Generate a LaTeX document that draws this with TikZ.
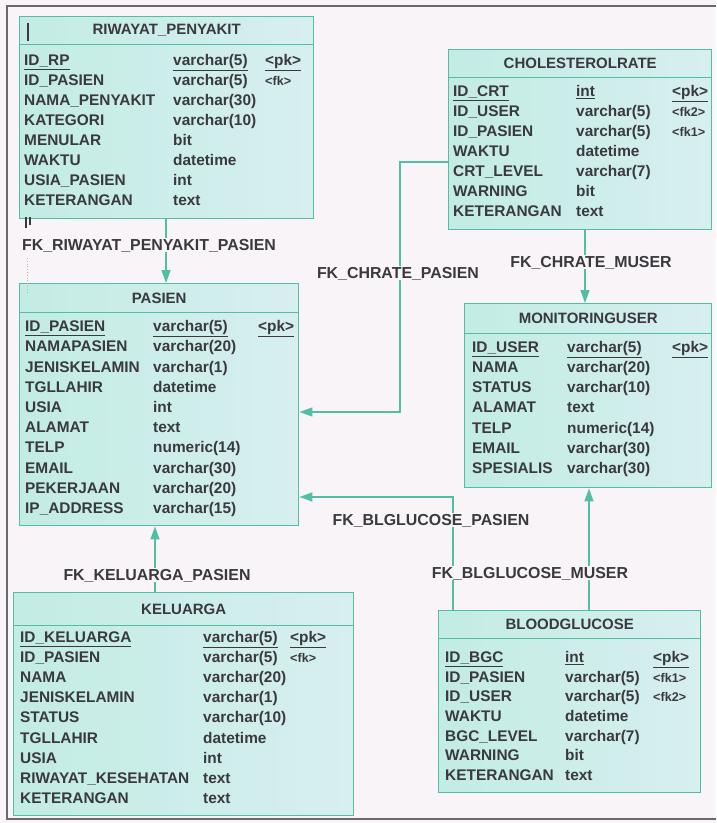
\documentclass[tikz,border=0pt]{standalone}
\usepackage{fontspec}
\setmainfont{Liberation Sans}
\usetikzlibrary{arrows.meta}

\definecolor{pagebg}{HTML}{F8F4F7}
\definecolor{tealline}{HTML}{52BFA5}
\definecolor{boxleft}{HTML}{C2ECE4}
\definecolor{boxright}{HTML}{D7EFEF}
\definecolor{ink}{HTML}{3A393F}
\definecolor{framegray}{HTML}{6B6670}

\tikzset{
  tablebox/.style={draw=tealline, line width=1.4pt, left color=boxleft, right color=boxright,
    anchor=north west, inner sep=0pt},
  headbox/.style={draw=tealline, line width=1.4pt, anchor=north west, inner sep=0pt,
    minimum height=28pt, text=ink, font=\bfseries\fontsize{15.0pt}{18pt}\selectfont},
  fld/.style={anchor=west, inner sep=0pt, text height=11.2pt, text depth=0pt, text=ink,
    font=\bfseries\fontsize{15.4pt}{18pt}\selectfont},
  fkline/.style={draw=tealline, line width=1.4pt, -{Triangle[length=13pt,width=9pt]}},
  fklabel/.style={fill=pagebg, inner sep=1.5pt, text=ink, text height=11.2pt, text depth=0pt,
    font=\bfseries\fontsize{15.9pt}{18pt}\selectfont},
}

% one row of a table: prefix, index, y, column name, type, key
\newcommand\fldrow[6]{%
  \node[fld] (#1n#2) at (\cxa,#3) {#4};
  \node[fld] (#1t#2) at (\cxb,#3) {#5};
  \node[fld] (#1k#2) at (\cxc,#3) {#6};}
\newcommand\pkey[1]{\underline{#1}}
\newcommand\fkey[1]{{\fontsize{12.6pt}{16pt}\selectfont #1}}

\begin{document}
\begin{tikzpicture}[x=1pt,y=-1pt]
\useasboundingbox (0,0) rectangle (716,823);
\fill[pagebg] (0,0) rectangle (716,823);

% page frame
\draw[framegray, line width=1.8pt] (716,6) -- (7,6) -- (7,819) -- (716,819);

% ---------------- RIWAYAT_PENYAKIT ----------------
\node[tablebox, minimum width=294pt, minimum height=202pt] (riw) at (19,16) {};
\node[headbox, minimum width=294pt] (riwh) at (19,16) {RIWAYAT\_PENYAKIT};
\def\cxa{24}\def\cxb{173}\def\cxc{265}
\fldrow{riw}{1}{60}{\pkey{ID\_RP}}{\pkey{varchar(5)}}{\pkey{<pk>}}
\fldrow{riw}{2}{80}{ID\_PASIEN}{varchar(5)}{\fkey{<fk>}}
\fldrow{riw}{3}{100}{NAMA\_PENYAKIT}{varchar(30)}{}
\fldrow{riw}{4}{120}{KATEGORI}{varchar(10)}{}
\fldrow{riw}{5}{140}{MENULAR}{bit}{}
\fldrow{riw}{6}{160}{WAKTU}{datetime}{}
\fldrow{riw}{7}{180}{USIA\_PASIEN}{int}{}
\fldrow{riw}{8}{200}{KETERANGAN}{text}{}

% ---------------- CHOLESTEROLRATE ----------------
\node[tablebox, minimum width=263pt, minimum height=180pt] (chol) at (448,49) {};
\node[headbox, minimum width=263pt] (cholh) at (448,49) {CHOLESTEROLRATE};
\def\cxa{453}\def\cxb{576}\def\cxc{672}
\fldrow{chol}{1}{91}{\pkey{ID\_CRT}}{\pkey{int}}{\pkey{<pk>}}
\fldrow{chol}{2}{111}{ID\_USER}{varchar(5)}{\fkey{<fk2>}}
\fldrow{chol}{3}{131}{ID\_PASIEN}{varchar(5)}{\fkey{<fk1>}}
\fldrow{chol}{4}{151}{WAKTU}{datetime}{}
\fldrow{chol}{5}{171}{CRT\_LEVEL}{varchar(7)}{}
\fldrow{chol}{6}{191}{WARNING}{bit}{}
\fldrow{chol}{7}{211}{KETERANGAN}{text}{}

% ---------------- PASIEN ----------------
\node[tablebox, minimum width=279pt, minimum height=242pt] (pas) at (19,283) {};
\node[headbox, minimum width=279pt, minimum height=29pt] (pash) at (19,283) {PASIEN};
\def\cxa{25}\def\cxb{153}\def\cxc{258}
\fldrow{pas}{1}{326}{\pkey{ID\_PASIEN}}{\pkey{varchar(5)}}{\pkey{<pk>}}
\fldrow{pas}{2}{346}{NAMAPASIEN}{varchar(20)}{}
\fldrow{pas}{3}{367}{JENISKELAMIN}{varchar(1)}{}
\fldrow{pas}{4}{387}{TGLLAHIR}{datetime}{}
\fldrow{pas}{5}{407}{USIA}{int}{}
\fldrow{pas}{6}{427}{ALAMAT}{text}{}
\fldrow{pas}{7}{447}{TELP}{numeric(14)}{}
\fldrow{pas}{8}{468}{EMAIL}{varchar(30)}{}
\fldrow{pas}{9}{488}{PEKERJAAN}{varchar(20)}{}
\fldrow{pas}{10}{508}{IP\_ADDRESS}{varchar(15)}{}

% ---------------- MONITORINGUSER ----------------
\node[tablebox, minimum width=247pt, minimum height=184pt] (mon) at (464,303) {};
\node[headbox, minimum width=247pt, minimum height=30pt] (monh) at (464,303) {MONITORINGUSER};
\def\cxa{472}\def\cxb{567}\def\cxc{672}
\fldrow{mon}{1}{347}{\pkey{ID\_USER}}{\pkey{varchar(5)}}{\pkey{<pk>}}
\fldrow{mon}{2}{367}{NAMA}{varchar(20)}{}
\fldrow{mon}{3}{387}{STATUS}{varchar(10)}{}
\fldrow{mon}{4}{407}{ALAMAT}{text}{}
\fldrow{mon}{5}{428}{TELP}{numeric(14)}{}
\fldrow{mon}{6}{448}{EMAIL}{varchar(30)}{}
\fldrow{mon}{7}{468}{SPESIALIS}{varchar(30)}{}

% ---------------- KELUARGA ----------------
\node[tablebox, minimum width=340pt, minimum height=223pt] (kel) at (13,592) {};
\node[headbox, minimum width=340pt, minimum height=33pt] (kelh) at (13,592) {KELUARGA};
\def\cxa{20}\def\cxb{203}\def\cxc{290}
\fldrow{kel}{1}{637}{\pkey{ID\_KELUARGA}}{\pkey{varchar(5)}}{\pkey{<pk>}}
\fldrow{kel}{2}{657}{ID\_PASIEN}{varchar(5)}{\fkey{<fk>}}
\fldrow{kel}{3}{677}{NAMA}{varchar(20)}{}
\fldrow{kel}{4}{697}{JENISKELAMIN}{varchar(1)}{}
\fldrow{kel}{5}{717}{STATUS}{varchar(10)}{}
\fldrow{kel}{6}{738}{TGLLAHIR}{datetime}{}
\fldrow{kel}{7}{758}{USIA}{int}{}
\fldrow{kel}{8}{778}{RIWAYAT\_KESEHATAN}{text}{}
\fldrow{kel}{9}{798}{KETERANGAN}{text}{}

% ---------------- BLOODGLUCOSE ----------------
\node[tablebox, minimum width=262pt, minimum height=182pt] (bg) at (438,610) {};
\node[headbox, minimum width=262pt] (bgh) at (438,610) {BLOODGLUCOSE};
\def\cxa{445}\def\cxb{565}\def\cxc{653}
\fldrow{bg}{1}{657}{\pkey{ID\_BGC}}{\pkey{int}}{\pkey{<pk>}}
\fldrow{bg}{2}{677}{ID\_PASIEN}{varchar(5)}{\fkey{<fk1>}}
\fldrow{bg}{3}{696}{ID\_USER}{varchar(5)}{\fkey{<fk2>}}
\fldrow{bg}{4}{716}{WAKTU}{datetime}{}
\fldrow{bg}{5}{736}{BGC\_LEVEL}{varchar(7)}{}
\fldrow{bg}{6}{755}{WARNING}{bit}{}
\fldrow{bg}{7}{775}{KETERANGAN}{text}{}

% ---------------- references ----------------
\coordinate (xrp) at (166,0);
\coordinate (xcp) at (400,0);
\coordinate (ycpa) at (0,162);
\coordinate (ycpb) at (0,412);
\coordinate (xcm) at (585,0);
\coordinate (xbm) at (589,0);
\coordinate (xbp) at (453,0);
\coordinate (ybp) at (0,497);
\coordinate (xkp) at (155,0);

\draw[fkline] (riw.south -| xrp) -- (pas.north -| xrp);
\draw[fkline] (chol.west |- ycpa) -| (xcp |- ycpb) -- (pas.east |- ycpb);
\draw[fkline] (chol.south -| xcm) -- (mon.north -| xcm);
\draw[fkline] (bg.north -| xbm) -- (mon.south -| xbm);
\draw[fkline] (bg.north -| xbp) |- (pas.east |- ybp);
\draw[fkline] (kel.north -| xkp) -- (pas.south -| xkp);

\node[fklabel] (lrp) at (149,245) {FK\_RIWAYAT\_PENYAKIT\_PASIEN};
\node[fklabel] (lcp) at (398,273) {FK\_CHRATE\_PASIEN};
\node[fklabel] (lcm) at (591,262) {FK\_CHRATE\_MUSER};
\node[fklabel] (lbp) at (431,520) {FK\_BLGLUCOSE\_PASIEN};
\node[fklabel] (lbm) at (530,573) {FK\_BLGLUCOSE\_MUSER};
\node[fklabel] (lkp) at (157,575) {FK\_KELUARGA\_PASIEN};

% small dark tick marks beside RIWAYAT_PENYAKIT
\draw[ink, line width=2.6pt] (28,23) -- (28,33);
\draw[ink, line width=1.2pt] (28,33) -- (28,41);
\draw[ink, line width=1.6pt] (26,217) -- (26,228);
\draw[ink, line width=1.6pt] (30,217) -- (30,225);
\draw[framegray!50, line width=0.8pt, dotted] (27,258) -- (27,292);
\end{tikzpicture}
\end{document}
